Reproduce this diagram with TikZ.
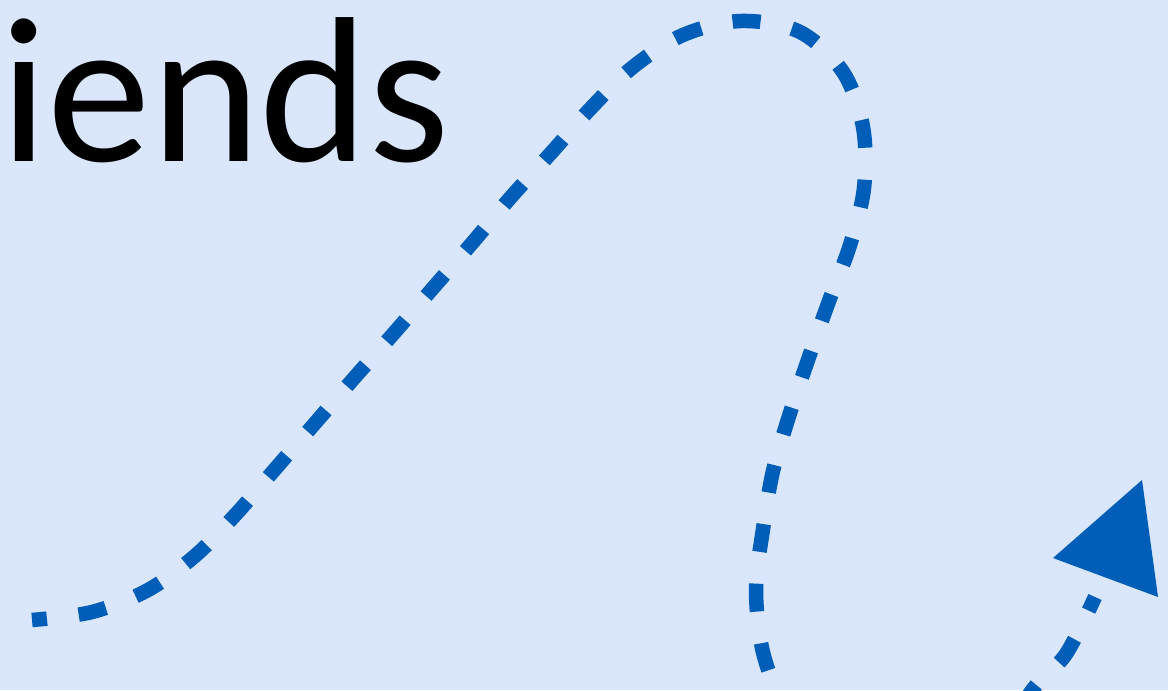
\documentclass[tikz,border=0pt]{standalone}
\usepackage{fontspec}
\setmainfont{Carlito}
\definecolor{bgblue}{RGB}{217,230,252}
\definecolor{lineblue}{RGB}{0,94,184}
\tikzset{
  dashline/.style={draw=lineblue, line width=0.29cm, dash pattern=on 0.56cm off 0.64cm, dash phase=0.26cm},
  headfill/.style={fill=lineblue, draw=none},
  bigtext/.style={inner sep=0pt, anchor=base west, font=\fontsize{118}{142}\selectfont, text=black}
}
\begin{document}
\begin{tikzpicture}[x=0.02cm, y=-0.02cm]
  \useasboundingbox (0,0) rectangle (1168,690);
  \fill[bgblue] (0,0) rectangle (1168,690);
  \clip (0,0) rectangle (1168,690);
  \node[bigtext] (title) at (0,161) {iends};
  \coordinate (start) at (32,620);
  \coordinate (tipbase) at (1095,597);
  \coordinate (tip) at (1142,480);
  \draw[dashline] plot[smooth, tension=0.55] coordinates {(32,620) (92,612) (148,590) (196,555) (237,513) (276,468) (316,422) (355,377) (394,333) (433,288) (473,242) (511,197) (551,153) (591,108) (633,67) (683,35) (741,21) (800,32) (843,72) (863,127) (864,188) (850,245) (829,301) (809,357) (790,413) (773,471) (763,529) (756,588) (762,648) (780,700) (805,745)};
  \draw[dashline] plot[smooth, tension=0.55] coordinates {(1095,597) (1066,654) (1033,689) (1005,735)};
  \fill[headfill] (1053,558) -- (tip) -- (1158,597) -- cycle;
\end{tikzpicture}
\end{document}
